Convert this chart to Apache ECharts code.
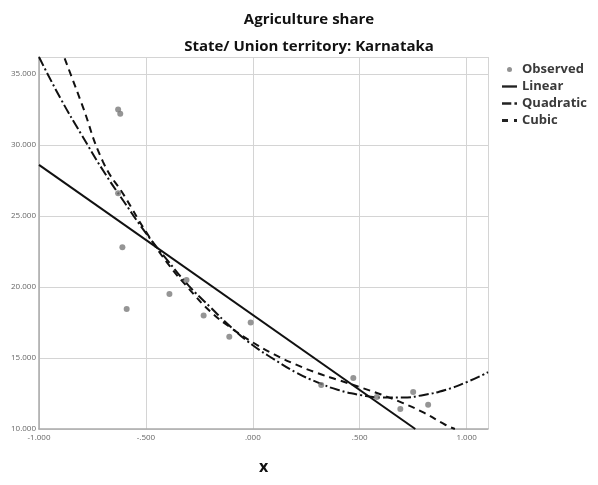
<!DOCTYPE html>
<html>
<head>
<meta charset="utf-8">
<script src="https://cdn.jsdelivr.net/npm/echarts@6/dist/echarts.min.js"></script>
<style>
html,body{margin:0;padding:0;background:#fff;}
#chart{width:598px;height:485px;}
</style>
</head>
<body>
<div id="chart"></div>
<script>
// Observed points [x, y]
var observed = [
  [-0.63, 32.5], [-0.62, 32.2], [-0.63, 26.6], [-0.61, 22.8], [-0.59, 18.45],
  [-0.39, 19.5], [-0.31, 20.5], [-0.23, 18.0], [-0.11, 16.5],
  [-0.01, 17.5], [0.32, 13.1], [0.47, 13.6], [0.58, 12.25], [0.69, 11.4],
  [0.75, 12.6], [0.82, 11.7]
];
// Fitted curves
var linearFit = [[-1.0, 28.6], [0.76, 10.0]];
var quadraticFit = [
  [-1.0, 36.2], [-0.9, 33.3], [-0.8, 30.7], [-0.7, 28.2], [-0.6, 25.95], [-0.5, 23.8],
  [-0.4, 21.9], [-0.3, 20.1], [-0.2, 18.6], [-0.1, 17.15], [0.0, 15.9], [0.1, 14.9],
  [0.2, 14.0], [0.3, 13.3], [0.4, 12.75], [0.5, 12.4], [0.6, 12.22], [0.7, 12.22],
  [0.8, 12.4], [0.9, 12.75], [1.0, 13.3], [1.1, 14.0]
];
var cubicFit = [
  [-0.88, 36.1], [-0.8, 32.9], [-0.7, 28.8], [-0.6, 26.4], [-0.5, 23.9], [-0.4, 21.7],
  [-0.3, 19.9], [-0.2, 18.3], [-0.1, 17.1], [0.0, 16.1], [0.1, 15.25], [0.2, 14.55],
  [0.3, 13.95], [0.4, 13.45], [0.5, 12.95], [0.6, 12.43], [0.7, 11.84], [0.8, 11.15],
  [0.9, 10.3], [0.945, 10.0]
];
var xTicks = {'-1': '-1.000', '-0.5': '-.500', '0': '.000', '0.5': '.500', '1': '1.000'};
var titleText = 'Agriculture share';
var subtitleText = 'State/ Union territory: Karnataka';
var xName = 'x';

function fmtY(v){ return v.toFixed(3); }

var chart = echarts.init(document.getElementById('chart'), null, {renderer: 'canvas'});
var font = '"Open Sans", "Liberation Sans", sans-serif';
var legendText = {fontFamily: font, fontWeight: 'bold', fontSize: 13, color: '#3a3a3a', lineHeight: 13};
chart.setOption({
  animation: false,
  backgroundColor: '#fff',
  title: [
    {text: titleText, left: 304, top: 7, textAlign: 'center',
     textStyle: {fontFamily: font, fontWeight: 'bold', fontSize: 15, color: '#111'}},
    {text: subtitleText, left: 304, top: 34, textAlign: 'center',
     textStyle: {fontFamily: font, fontWeight: 'bold', fontSize: 15, color: '#111'}}
  ],
  legend: {
    orient: 'vertical', left: 502, top: 63, itemWidth: 15, itemHeight: 5, itemGap: 4,
    padding: 0,
    itemStyle: {color: '#222'},
    textStyle: legendText,
    data: [
      {name: 'Observed', icon: 'circle', itemStyle: {color: '#777'}},
      {name: 'Linear', icon: 'path://M0,0H16V2.5H0Z'},
      {name: 'Quadratic', icon: 'path://M0,0H9V2.5H0Z M12,0H14.5V2.5H12Z'},
      {name: 'Cubic', icon: 'path://M0,0H5V2.5H0Z M10,0H12.5V2.5H10Z'}
    ]
  },
  grid: {left: 39, right: 110, top: 57, bottom: 56, containLabel: false},
  xAxis: {
    type: 'value', min: -1, max: 1.1, interval: 0.5,
    name: xName, nameLocation: 'middle', nameGap: 30,
    nameTextStyle: {fontFamily: font, fontWeight: 'bold', fontSize: 16, color: '#111'},
    axisLine: {show: true, onZero: false, lineStyle: {color: '#aaa', width: 1.5}},
    axisTick: {show: false},
    axisLabel: {fontFamily: font, fontSize: 8, color: '#666', margin: 5, showMaxLabel: false,
      formatter: function(v){ var k = String(Math.round(v*10)/10); return xTicks[k] !== undefined ? xTicks[k] : ''; }},
    splitLine: {show: true, lineStyle: {color: '#d4d4d4', width: 1}}
  },
  yAxis: {
    type: 'value', min: 10, max: 36.2, interval: 5,
    axisLine: {show: true, onZero: false, lineStyle: {color: '#aaa', width: 1.5}},
    axisTick: {show: false},
    axisLabel: {fontFamily: font, fontSize: 8, color: '#666', margin: 3, showMaxLabel: false,
      formatter: fmtY},
    splitLine: {show: true, lineStyle: {color: '#d4d4d4', width: 1}}
  },
  series: [
    {name: 'Observed', type: 'scatter', data: observed, symbolSize: 6,
     itemStyle: {color: '#7a7a7a'}, z: 5},
    {name: 'Linear', type: 'line', data: linearFit, showSymbol: false, symbol: 'none',
     lineStyle: {color: '#111', width: 2}, itemStyle: {color: '#111'}},
    {name: 'Quadratic', type: 'line', data: quadraticFit, showSymbol: false, symbol: 'none', smooth: true,
     lineStyle: {color: '#111', width: 2, type: [10, 3, 2, 3]}, itemStyle: {color: '#111'}},
    {name: 'Cubic', type: 'line', data: cubicFit, showSymbol: false, symbol: 'none', smooth: true,
     lineStyle: {color: '#111', width: 2, type: [7, 5]}, itemStyle: {color: '#111'}}
  ]
});
</script>
</body>
</html>
